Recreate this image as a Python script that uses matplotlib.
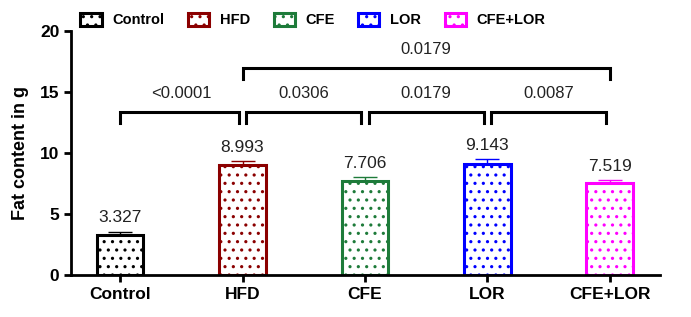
import matplotlib
matplotlib.use("Agg")
import matplotlib.pyplot as plt
from matplotlib.patches import Patch

plt.rcParams['font.family'] = ['Liberation Sans', 'DejaVu Sans']
plt.rcParams['hatch.linewidth'] = 1.1

categories = ["Control", "HFD", "CFE", "LOR", "CFE+LOR"]
means = [3.327, 8.993, 7.706, 9.143, 7.519]
sems = [0.25, 0.35, 0.3, 0.4, 0.3]
colors = ["#000000", "#8B0000", "#1E7B3A", "#0000FF", "#FF00FF"]
value_labels = ["3.327", "8.993", "7.706", "9.143", "7.519"]
comparisons = [(0, 1, "<0.0001", 13.4), (1, 2, "0.0306", 13.4), (2, 3, "0.0179", 13.4),
               (3, 4, "0.0087", 13.4), (1, 4, "0.0179", 17.0)]
yticks = [0, 5, 10, 15, 20]

fig = plt.figure(figsize=(6.91, 3.17), dpi=100)
ax = fig.add_axes([0.103, 0.132, 0.852, 0.77])

x = list(range(len(categories)))
for i in x:
    ax.bar(i, means[i], width=0.38, facecolor="white", edgecolor=colors[i],
           linewidth=2.2, hatch="..", zorder=2)
    ax.errorbar(i, means[i], yerr=[[0], [sems[i]]], color=colors[i], capsize=8.5,
                elinewidth=1, capthick=1, fmt="none", zorder=1)
    ax.text(i, means[i] + sems[i] + 0.5, value_labels[i], ha="center", va="bottom",
            fontsize=12.5, color="#222222")

for a, b, lab, h in comparisons:
    if a == 1 and b == 4:
        xa, xb = a, b
    else:
        xa = a + (0.03 if a != 0 else 0)
        xb = b - 0.03
    ax.plot([xa, xa, xb, xb], [h - 0.9, h, h, h - 0.9], color="black", lw=2.2,
            solid_joinstyle="miter", clip_on=False)
    ax.text((a + b) / 2, h + 0.9, lab, ha="center", va="bottom", fontsize=12, color="#222222")

ax.set_xlim(-0.4, 4.41)
ax.set_ylim(0, 20)
ax.set_yticks(yticks)
ax.set_xticks(x)
ax.set_xticklabels(categories, fontsize=12.5, fontweight="bold")
for t in ax.get_yticklabels():
    t.set_fontsize(12.5)
    t.set_fontweight("bold")
ax.set_ylabel("Fat content in g", fontsize=13, fontweight="bold", labelpad=8)
for s in ["top", "right"]:
    ax.spines[s].set_visible(False)
for s in ["left", "bottom"]:
    ax.spines[s].set_linewidth(2)
ax.tick_params(width=2, length=5)

handles = [Patch(facecolor="white", edgecolor=c, hatch="..", linewidth=2.2) for c in colors]
leg = fig.legend(handles, categories, loc="center", bbox_to_anchor=(0.453, 0.937), ncol=5,
                 frameon=False, prop={"weight": "bold", "size": 10.5}, handlelength=1.45,
                 handleheight=1.0, columnspacing=1.6, handletextpad=0.75)

fig.savefig("out.png", dpi=100)
